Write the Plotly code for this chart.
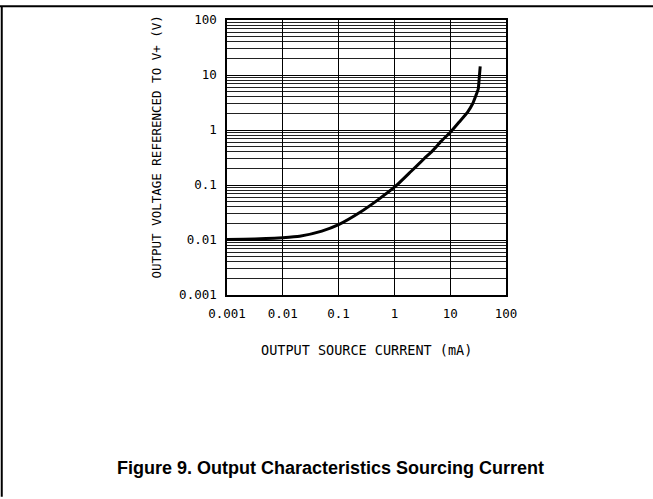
import plotly.graph_objects as go

# Data
current_ma = [0.001, 0.002, 0.005, 0.01, 0.02, 0.05, 0.1, 0.247, 0.5, 1.05, 2, 3.4, 4.81, 6.78, 10.25, 14.5, 20.5, 25.2, 28.9, 31.8, 33.2, 34.5]
voltage_v = [0.0102, 0.0103, 0.0106, 0.0110, 0.0117, 0.0145, 0.0190, 0.0322, 0.053, 0.095, 0.178, 0.300, 0.418, 0.614, 0.93, 1.40, 2.12, 3.0, 4.25, 5.57, 9.0, 14.3]

tick_vals = [0.001, 0.01, 0.1, 1, 10, 100]
tick_text = ["0.001", "0.01", "0.1", "1", "10", "100"]

W, H = 653, 499
L, R, T, B = 227, 505.7, 17, 295

fig = go.Figure()
fig.add_trace(go.Scatter(
    x=current_ma, y=voltage_v, mode="lines",
    line=dict(color="black", width=3, shape="spline", smoothing=0.5),
    showlegend=False, hoverinfo="skip"))

mono = "DejaVu Sans Mono"
fig.update_xaxes(
    type="log", range=[-3, 2], tickvals=tick_vals, ticktext=tick_text,
    showgrid=True, gridcolor="black", gridwidth=1.3,
    showline=True, linecolor="black", linewidth=1.5, mirror=True,
    ticks="outside", ticklen=6, tickcolor="rgba(0,0,0,0)", zeroline=False,
    tickfont=dict(family=mono, size=12.5, color="black"))
fig.update_yaxes(
    type="log", range=[-3, 2], tickvals=tick_vals, ticktext=tick_text,
    showgrid=True, gridcolor="black", gridwidth=1.3,
    minor=dict(showgrid=True, dtick="D1", gridcolor="#222", gridwidth=1, ticks=""),
    showline=True, linecolor="black", linewidth=1.5, mirror=True,
    ticks="outside", ticklen=6, tickcolor="rgba(0,0,0,0)", zeroline=False,
    tickfont=dict(family=mono, size=12.5, color="black"))

pw = R - L
ph = B - T
def px_x(p):
    return (p - L) / pw
def px_y(p):
    return (B - p) / ph

annots = [
    dict(text="OUTPUT VOLTAGE REFERENCED TO V+ (V)", x=px_x(157), y=px_y(145),
         textangle=-90, font=dict(family=mono, size=12.5, color="black")),
    dict(text="OUTPUT SOURCE CURRENT (mA)", x=px_x(366), y=px_y(351),
         font=dict(family=mono, size=13.5, color="black")),
    dict(text="<b>Figure 9. Output Characteristics Sourcing Current</b>", x=px_x(330), y=px_y(470),
         font=dict(family="Liberation Sans, Arial", size=18, color="black")),
]
for a in annots:
    a.update(xref="paper", yref="paper", showarrow=False, xanchor="center", yanchor="middle")

shapes = [
    dict(type="line", xref="paper", yref="paper", x0=px_x(0), x1=px_x(W), y0=px_y(3), y1=px_y(3),
         line=dict(color="black", width=2)),
    dict(type="line", xref="paper", yref="paper", x0=px_x(2), x1=px_x(2), y0=px_y(3), y1=px_y(H),
         line=dict(color="black", width=2)),
]

fig.update_layout(
    width=W, height=H, autosize=False,
    margin=dict(l=L, r=W - R, t=T, b=H - B, pad=0),
    paper_bgcolor="white", plot_bgcolor="white",
    annotations=annots, shapes=shapes)

fig.write_html("out.html", config={"displayModeBar": False},
               post_script="document.body.style.margin='0';document.body.style.padding='0';")
